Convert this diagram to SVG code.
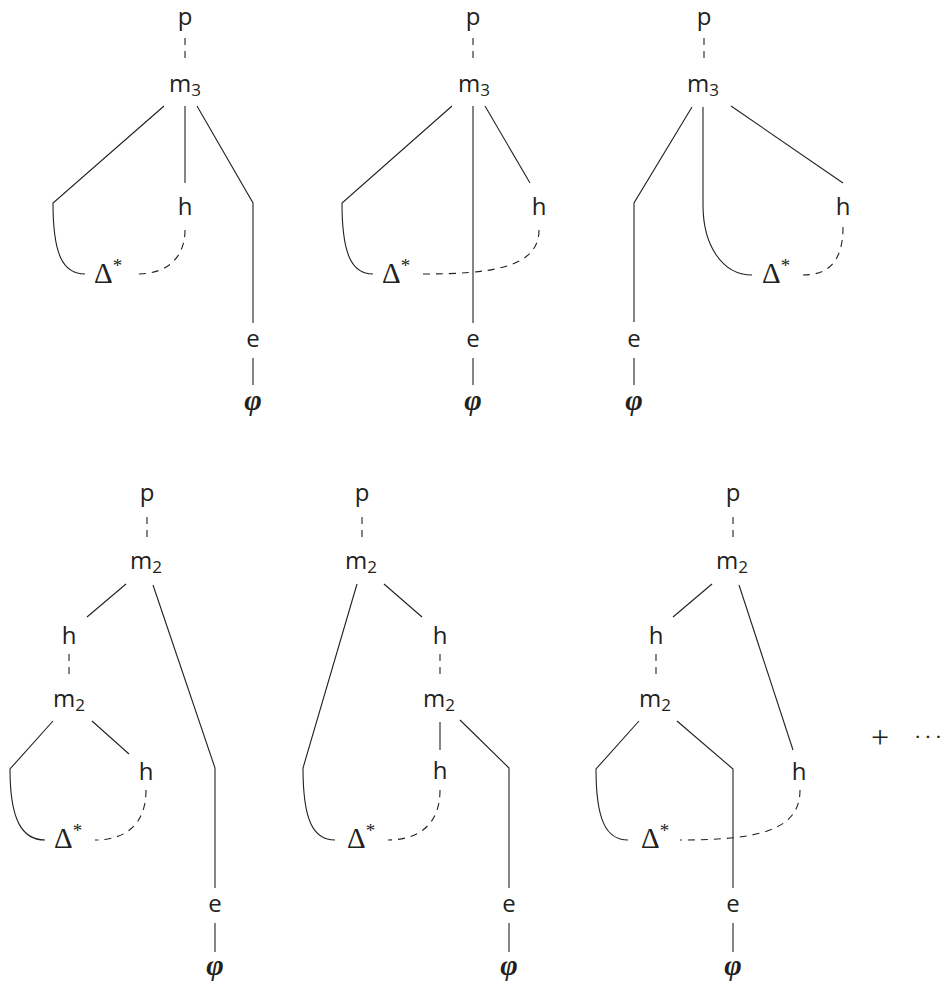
<svg xmlns="http://www.w3.org/2000/svg" width="946" height="985" viewBox="0 0 946 985">
<style>
.l{font-family:"Open Sans","DejaVu Sans",sans-serif;font-size:24px;fill:#231f20;text-anchor:middle}
.sub{font-size:17px}
.dl{font-family:"Liberation Serif",serif;font-size:29px;fill:#231f20}
.sup{font-size:19px}
.phi{font-family:"Liberation Serif",serif;font-style:italic;font-weight:bold;font-size:30px;fill:#231f20;text-anchor:middle}
.op{font-family:"Liberation Serif",serif;fill:#231f20}
.s{stroke:#231f20;stroke-width:1.1;fill:none}
.d{stroke-dasharray:7 6}
</style>
<rect width="946" height="985" fill="#fff"/>
<g id="connectors">
<!-- diagram 1 -->
<path class="s d" d="M185,38 V62"/>
<path class="s" d="M164,106 L53,203 C53,255 63,274 85,274"/>
<path class="s" d="M185,106 V183"/>
<path class="s d" d="M185,230 C185,257 168,274 137,274"/>
<path class="s" d="M197,106 L253,203 V323"/>
<path class="s" d="M253,358 V385"/>
<!-- diagram 2 -->
<path class="s d" d="M473,38 V62"/>
<path class="s" d="M452,106 L342,203 C342,255 352,274 373,274"/>
<path class="s" d="M473,106 V323"/>
<path class="s" d="M485,106 L530,183"/>
<path class="s d" d="M539,230 C539,268 490,274 423,274"/>
<path class="s" d="M473,358 V385"/>
<!-- diagram 3 -->
<path class="s d" d="M704,38 V62"/>
<path class="s" d="M692,107 L634,203 V322"/>
<path class="s" d="M703,107 V205 C703,245 722,275 752,275"/>
<path class="s" d="M731,106 L843,183"/>
<path class="s d" d="M843,227 C843,262 828,275 803,275"/>
<path class="s" d="M634,358 V385"/>
<!-- diagram 4 -->
<path class="s d" d="M147,517 V540"/>
<path class="s" d="M126,584 L87,617"/>
<path class="s d" d="M69,654 V678"/>
<path class="s" d="M53,721 L10,769 C10,820 22,840 45,840"/>
<path class="s" d="M92,721 L129,754"/>
<path class="s d" d="M146,790 C146,825 125,840 95,840"/>
<path class="s" d="M153,585 L215,768 V888"/>
<path class="s" d="M215,923 V952"/>
<!-- diagram 5 -->
<path class="s d" d="M362,517 V540"/>
<path class="s" d="M357,584 L303,768 C303,820 313,840 335,840"/>
<path class="s" d="M384,584 L422,617"/>
<path class="s d" d="M440,654 V678"/>
<path class="s" d="M440,722 V750"/>
<path class="s d" d="M440,790 C440,825 418,840 388,840"/>
<path class="s" d="M460,720 L509,768 V888"/>
<path class="s" d="M509,923 V952"/>
<!-- diagram 6 -->
<path class="s d" d="M733,517 V540"/>
<path class="s" d="M712,584 L673,617"/>
<path class="s d" d="M656,654 V678"/>
<path class="s" d="M639,721 L596,769 C596,820 606,840 628,840"/>
<path class="s" d="M677,721 L733,769 V888"/>
<path class="s" d="M739,585 L793,750"/>
<path class="s d" d="M800,790 C800,830 760,840 680,840"/>
<path class="s" d="M733,923 V952"/>
</g>
<!-- diagram 1 nodes -->
<g id="d1-p"><text class="l" x="185" y="25">p</text></g>
<g id="d1-m3"><text class="l" x="185" y="92">m<tspan class="sub" dy="4">3</tspan></text></g>
<g id="d1-h"><text class="l" x="185" y="215">h</text></g>
<g id="d1-delta"><text class="dl" x="94" y="283">Δ<tspan class="sup" dy="-11">*</tspan></text></g>
<g id="d1-e"><text class="l" x="253" y="347">e</text></g>
<g id="d1-phi"><text class="phi" x="253" y="410">φ</text></g>
<!-- diagram 2 nodes -->
<g id="d2-p"><text class="l" x="473" y="25">p</text></g>
<g id="d2-m3"><text class="l" x="474" y="92">m<tspan class="sub" dy="4">3</tspan></text></g>
<g id="d2-h"><text class="l" x="539" y="215">h</text></g>
<g id="d2-delta"><text class="dl" x="382" y="283">Δ<tspan class="sup" dy="-11">*</tspan></text></g>
<g id="d2-e"><text class="l" x="473" y="347">e</text></g>
<g id="d2-phi"><text class="phi" x="473" y="410">φ</text></g>
<!-- diagram 3 nodes -->
<g id="d3-p"><text class="l" x="704" y="25">p</text></g>
<g id="d3-m3"><text class="l" x="703" y="92">m<tspan class="sub" dy="4">3</tspan></text></g>
<g id="d3-h"><text class="l" x="843" y="215">h</text></g>
<g id="d3-delta"><text class="dl" x="762" y="283">Δ<tspan class="sup" dy="-11">*</tspan></text></g>
<g id="d3-e"><text class="l" x="634" y="347">e</text></g>
<g id="d3-phi"><text class="phi" x="634" y="410">φ</text></g>
<!-- diagram 4 nodes -->
<g id="d4-p"><text class="l" x="147" y="501">p</text></g>
<g id="d4-m2a"><text class="l" x="146" y="569">m<tspan class="sub" dy="4">2</tspan></text></g>
<g id="d4-h1"><text class="l" x="69" y="644">h</text></g>
<g id="d4-m2b"><text class="l" x="69" y="707">m<tspan class="sub" dy="4">2</tspan></text></g>
<g id="d4-h2"><text class="l" x="146" y="780">h</text></g>
<g id="d4-delta"><text class="dl" x="54" y="848">Δ<tspan class="sup" dy="-11">*</tspan></text></g>
<g id="d4-e"><text class="l" x="215" y="912">e</text></g>
<g id="d4-phi"><text class="phi" x="215" y="975">φ</text></g>
<!-- diagram 5 nodes -->
<g id="d5-p"><text class="l" x="362" y="501">p</text></g>
<g id="d5-m2a"><text class="l" x="361" y="569">m<tspan class="sub" dy="4">2</tspan></text></g>
<g id="d5-h1"><text class="l" x="440" y="644">h</text></g>
<g id="d5-m2b"><text class="l" x="439" y="707">m<tspan class="sub" dy="4">2</tspan></text></g>
<g id="d5-h2"><text class="l" x="440" y="779">h</text></g>
<g id="d5-delta"><text class="dl" x="347" y="848">Δ<tspan class="sup" dy="-11">*</tspan></text></g>
<g id="d5-e"><text class="l" x="509" y="912">e</text></g>
<g id="d5-phi"><text class="phi" x="509" y="975">φ</text></g>
<!-- diagram 6 nodes -->
<g id="d6-p"><text class="l" x="733" y="501">p</text></g>
<g id="d6-m2a"><text class="l" x="732" y="569">m<tspan class="sub" dy="4">2</tspan></text></g>
<g id="d6-h1"><text class="l" x="656" y="644">h</text></g>
<g id="d6-m2b"><text class="l" x="655" y="707">m<tspan class="sub" dy="4">2</tspan></text></g>
<g id="d6-h2"><text class="l" x="799" y="780">h</text></g>
<g id="d6-delta"><text class="dl" x="641" y="848">Δ<tspan class="sup" dy="-11">*</tspan></text></g>
<g id="d6-e"><text class="l" x="733" y="912">e</text></g>
<g id="d6-phi"><text class="phi" x="733" y="975">φ</text></g>
<!-- continuation -->
<g id="plus-dots">
<text class="op" x="880" y="748" font-size="32" text-anchor="middle">+</text>
<text class="op" x="914" y="744" font-size="22" letter-spacing="3">···</text>
</g>
</svg>
